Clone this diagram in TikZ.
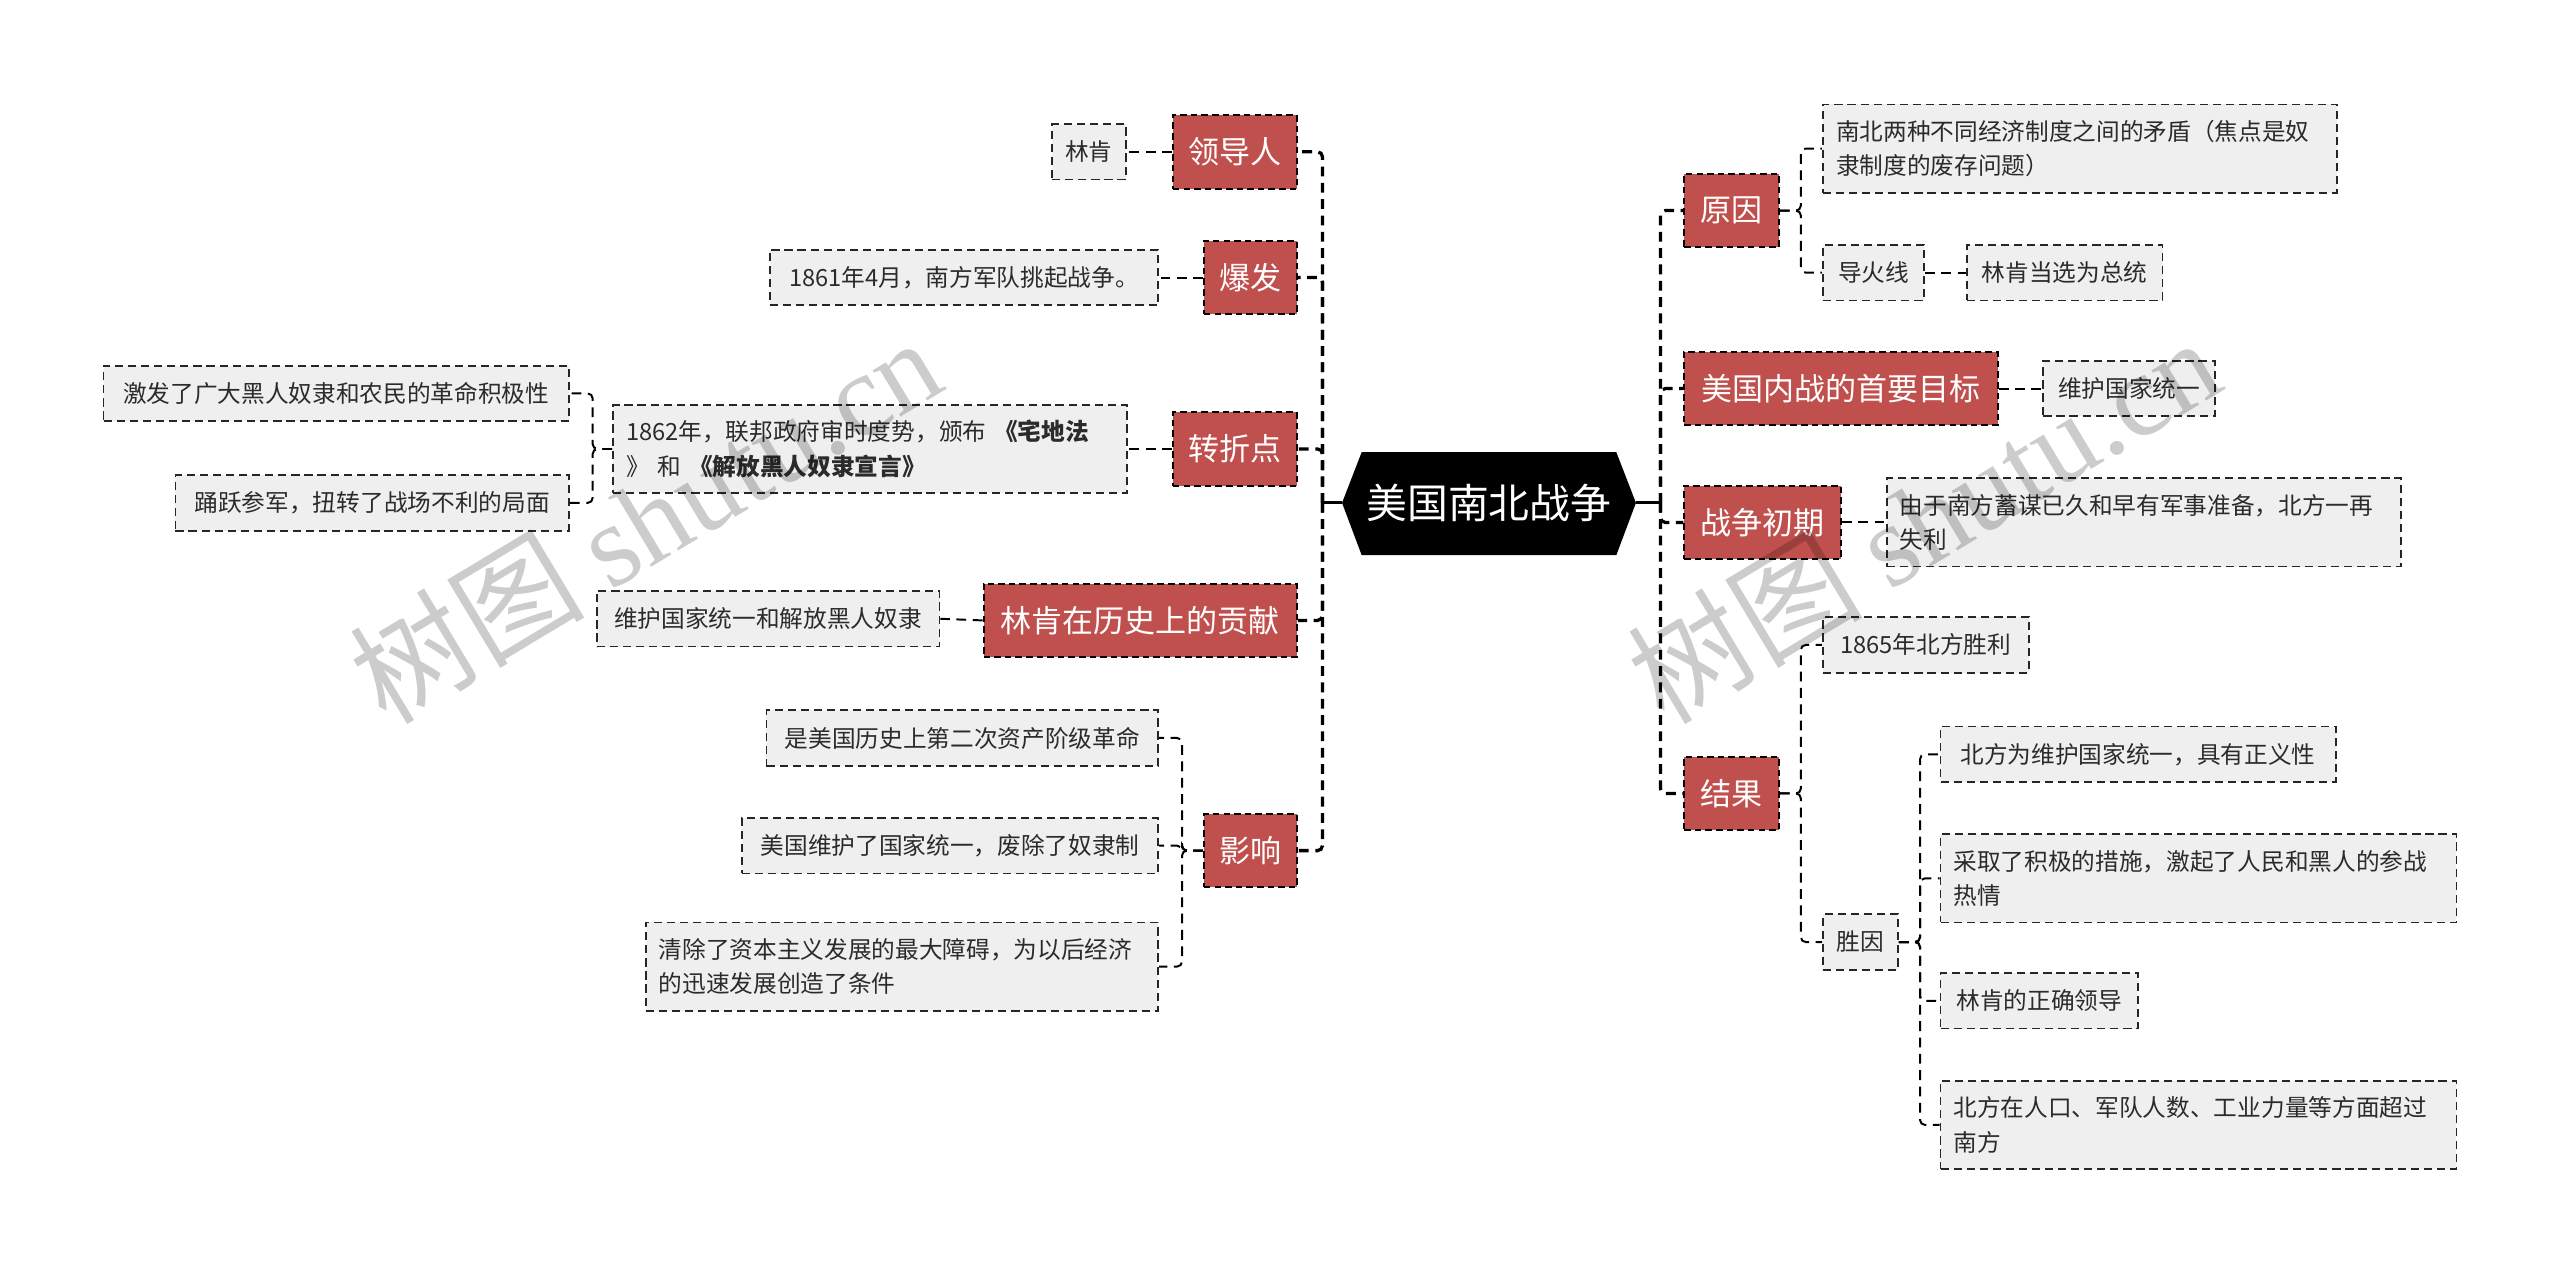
\documentclass[tikz,border=0pt]{standalone}
\usepackage{fontspec}
\setmainfont{Noto Sans CJK SC}
\newfontfamily\wmlatin{Liberation Serif}
\definecolor{myred}{HTML}{C0504D}
\definecolor{leafbg}{HTML}{EFEFEF}
\definecolor{leaftext}{HTML}{2B2B2B}
\begin{document}
\begin{tikzpicture}[x=1pt,y=-1pt,
 redbox/.style={draw=black, fill=myred, text=white, line width=1.2pt, dash pattern=on 4pt off 2.5pt, font=\fontsize{19}{23}\selectfont, minimum height=45pt, inner xsep=8pt, inner ysep=0pt},
 leafbox/.style={draw=black!85, fill=leafbg, text=leaftext, line width=1.1pt, dash pattern=on 5pt off 3pt, font=\fontsize{14.5}{21}\selectfont, minimum height=34pt, inner xsep=8pt, inner ysep=4pt},
 twoline/.style={minimum height=54pt, align=left},
 trunkline/.style={line width=2pt, dash pattern=on 6pt off 4pt, rounded corners=3pt},
 linkline/.style={line width=1.2pt, dash pattern=on 6pt off 4pt, rounded corners=3pt},
 wmark/.style={rotate=31, text=black, opacity=0.2, font=\fontsize{72}{72}\selectfont}
]
\useasboundingbox (0,0) rectangle (1568,781);

% root
\fill[black] (822,308) -- (834,277) -- (990,277) -- (1002,308) -- (990,340) -- (834,340) -- cycle;
\node[text=white, font=\fontsize{25}{30}\selectfont] (root) at (912,308) {美国南北战争};
\coordinate (rootL) at (822,308);
\coordinate (rootR) at (1002,308);
\coordinate (JL) at (810,308);
\coordinate (JR) at (1017,308);
\draw[line width=2pt] (rootL) -- (JL);
\draw[line width=2pt] (rootR) -- (JR);

% left branches
\node[redbox, anchor=east, minimum width=76pt] (lead) at (795,93) {领导人};
\node[redbox, anchor=east, minimum width=57pt] (baofa) at (795,170) {爆发};
\node[redbox, anchor=east, minimum width=76pt] (zz) at (795,275) {转折点};
\node[redbox, anchor=east, minimum width=192pt] (gx) at (795,380) {林肯在历史上的贡献};
\node[redbox, anchor=east, minimum width=57pt] (yx) at (795,521) {影响};

% right branches
\node[redbox, anchor=west, minimum width=58pt] (yy) at (1031,129) {原因};
\node[redbox, anchor=west, minimum width=192pt] (mb) at (1031,238) {美国内战的首要目标};
\node[redbox, anchor=west, minimum width=96pt] (cq) at (1031,320) {战争初期};
\node[redbox, anchor=west, minimum width=58pt] (jg) at (1031,486) {结果};

% left leaves
\node[leafbox, anchor=east, minimum width=44pt] (lk) at (690,93) {林肯};
\node[leafbox, anchor=east, minimum width=238pt] (bf1) at (710,170) {1861年4月，南方军队挑起战争。};
\node[leafbox, twoline, anchor=east, text width=299pt] (zz1) at (691,275) {1862年，联邦政府审时度势，颁布 \textbf{《宅地法}\\》 和 \textbf{《解放黑人奴隶宣言》}};
\node[leafbox, anchor=east, minimum width=285pt] (zz1a) at (349,241) {激发了广大黑人奴隶和农民的革命积极性};
\node[leafbox, anchor=east, minimum width=241pt] (zz1b) at (349,308) {踊跃参军，扭转了战场不利的局面};
\node[leafbox, anchor=east, minimum width=210pt] (gx1) at (576,379) {维护国家统一和解放黑人奴隶};
\node[leafbox, anchor=east, minimum width=240pt] (yx1) at (710,452) {是美国历史上第二次资产阶级革命};
\node[leafbox, anchor=east, minimum width=255pt] (yx2) at (710,518) {美国维护了国家统一，废除了奴隶制};
\node[leafbox, twoline, anchor=east, text width=298pt] (yx3) at (710,592) {清除了资本主义发展的最大障碍，为以后经济\\的迅速发展创造了条件};

% right leaves
\node[leafbox, twoline, anchor=west, text width=299pt] (yy1) at (1116,91) {南北两种不同经济制度之间的矛盾（焦点是奴\\隶制度的废存问题）};
\node[leafbox, anchor=west, minimum width=62pt] (yy2) at (1116,167) {导火线};
\node[leafbox, anchor=west, minimum width=120pt] (yy2a) at (1204,167) {林肯当选为总统};
\node[leafbox, anchor=west, minimum width=105pt] (mb1) at (1251,238) {维护国家统一};
\node[leafbox, twoline, anchor=west, text width=299pt] (cq1) at (1155,320) {由于南方蓄谋已久和早有军事准备，北方一再\\失利};
\node[leafbox, anchor=west, minimum width=126pt] (jg1) at (1116,395) {1865年北方胜利};
\node[leafbox, anchor=west, minimum width=46pt] (jg2) at (1116,577) {胜因};
\node[leafbox, anchor=west, minimum width=242pt] (sy1) at (1188,462) {北方为维护国家统一，具有正义性};
\node[leafbox, twoline, anchor=west, text width=300pt] (sy2) at (1188,538) {采取了积极的措施，激起了人民和黑人的参战\\热情};
\node[leafbox, anchor=west, minimum width=121pt] (sy3) at (1188,613) {林肯的正确领导};
\node[leafbox, twoline, anchor=west, text width=300pt] (sy4) at (1188,689) {北方在人口、军队人数、工业力量等方面超过\\南方};

% trunk connectors
\foreach \b in {lead,baofa,zz,gx,yx} {\draw[trunkline] (JL) |- (\b.east);}
\foreach \b in {yy,mb,cq,jg} {\draw[trunkline] (JR) |- (\b.west);}

% junctions for leaf groups
\coordinate (jzz) at (363,275);
\coordinate (jyx) at (724,521);
\coordinate (jyy) at (1103,129);
\coordinate (jjg) at (1103,486);
\coordinate (jsy) at (1176,577);

% leaf connectors
\draw[linkline] (lead.west) -- (lk.east);
\draw[linkline] (baofa.west) -- (bf1.east);
\draw[linkline] (zz.west) -- (zz1.east);
\draw[linkline] (zz1.west) -- (jzz) |- (zz1a.east);
\draw[linkline] (zz1.west) -- (jzz) |- (zz1b.east);
\draw[linkline] (gx.west) -- (gx1.east);
\foreach \c in {yx1,yx2,yx3} {\draw[linkline] (yx.west) -- (jyx) |- (\c.east);}
\foreach \c in {yy1,yy2} {\draw[linkline] (yy.east) -- (jyy) |- (\c.west);}
\draw[linkline] (yy2.east) -- (yy2a.west);
\draw[linkline] (mb.east) -- (mb1.west);
\draw[linkline] (cq.east) -- (cq1.west);
\foreach \c in {jg1,jg2} {\draw[linkline] (jg.east) -- (jjg) |- (\c.west);}
\foreach \c in {sy1,sy2,sy3,sy4} {\draw[linkline] (jg2.east) -- (jsy) |- (\c.west);}

% watermarks
\node[wmark] (wm1) at (395,318) {树图 {\wmlatin shutu.cn}};
\node[wmark] (wm2) at (1178,318) {树图 {\wmlatin shutu.cn}};
\end{tikzpicture}
\end{document}
